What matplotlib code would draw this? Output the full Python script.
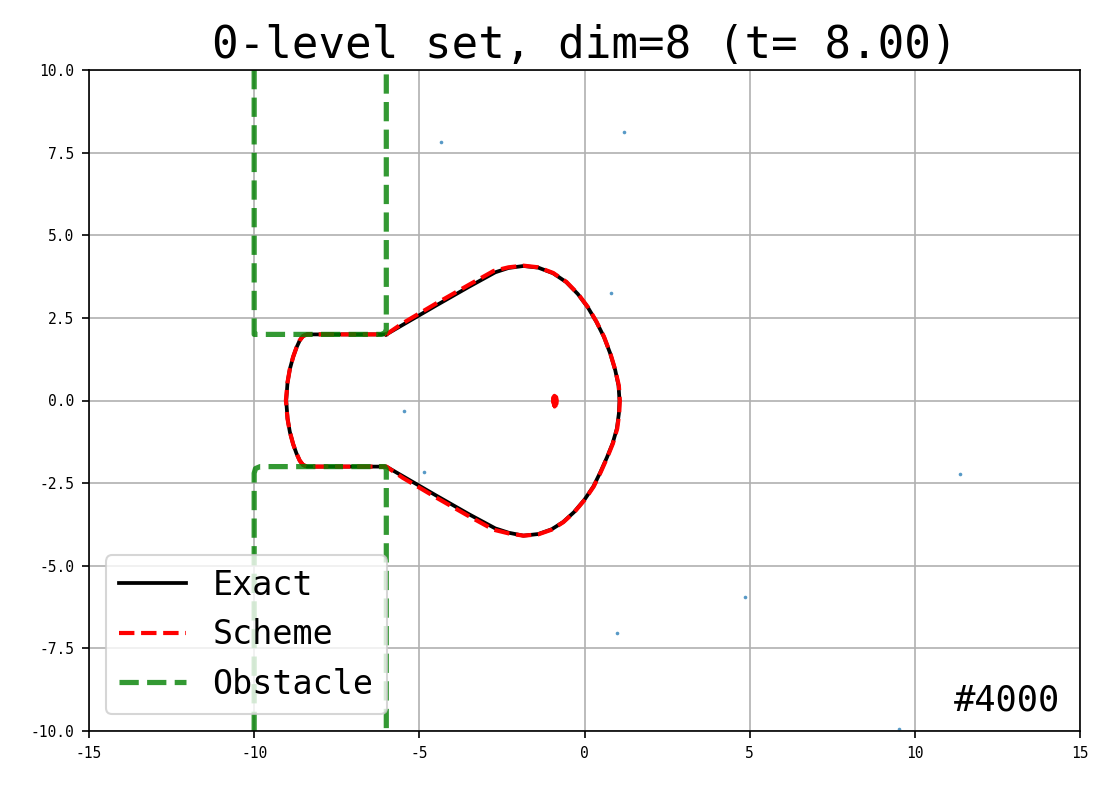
import matplotlib
matplotlib.use("Agg")
import matplotlib.pyplot as plt
import numpy as np

# ---- data ----
exact_x = [-6.00, -4.50, -3.50, -2.70, -2.30, -1.85, -1.40, -0.95, -0.55, -0.20, 0.10, 0.36, 0.59, 0.78, 0.93, 1.03, 1.06,
           1.04, 0.98, 0.85, 0.68, 0.48, 0.27, 0.00, -0.32, -0.65, -1.00, -1.40, -1.85, -2.30, -2.70, -3.50, -4.50, -6.00,
           -8.40, -8.52, -8.62, -8.72, -8.82, -8.92, -8.99, -9.03,
           -8.99, -8.92, -8.82, -8.72, -8.62, -8.52, -8.40, -6.00]
exact_y = [2.00, 2.87, 3.44, 3.88, 4.01, 4.07, 4.02, 3.85, 3.58, 3.22, 2.82, 2.38, 1.92, 1.42, 0.92, 0.45, 0.00,
           -0.40, -0.85, -1.30, -1.72, -2.17, -2.60, -3.00, -3.38, -3.68, -3.90, -4.04, -4.09, -4.00, -3.87, -3.44, -2.87, -2.00,
           -2.00, -1.95, -1.82, -1.60, -1.32, -0.95, -0.55, 0.00,
           0.55, 0.95, 1.32, 1.60, 1.82, 1.95, 2.00, 2.00]

scheme_x = [-6.00, -5.50, -4.50, -3.50, -2.75, -2.30, -1.85, -1.40, -0.95, -0.55, -0.20, 0.10, 0.36, 0.59, 0.78, 0.93, 1.04, 1.07,
            1.05, 0.99, 0.86, 0.69, 0.49, 0.28, 0.01, -0.31, -0.64, -1.00, -1.40, -1.85, -2.30, -2.75, -3.50, -4.50, -5.50, -6.00,
            -8.40, -8.52, -8.62, -8.72, -8.82, -8.92, -8.99, -9.04,
            -8.99, -8.92, -8.82, -8.72, -8.62, -8.52, -8.40, -6.00]
scheme_y = [2.00, 2.34, 2.93, 3.50, 3.92, 4.03, 4.08, 4.03, 3.86, 3.59, 3.23, 2.83, 2.39, 1.93, 1.43, 0.93, 0.45, 0.00,
            -0.40, -0.85, -1.30, -1.72, -2.17, -2.60, -3.00, -3.38, -3.68, -3.91, -4.05, -4.09, -4.02, -3.91, -3.50, -2.93, -2.34, -2.00,
            -2.00, -1.95, -1.82, -1.60, -1.32, -0.95, -0.55, 0.00,
            0.55, 0.95, 1.32, 1.60, 1.82, 1.95, 2.00, 2.00]

island_x = [-0.90, -0.85, -0.84, -0.86, -0.91, -0.95, -0.95, -0.90]
island_y = [-0.16, -0.10, 0.00, 0.10, 0.14, 0.08, -0.05, -0.16]

obst_up_x = [-10.0, -10.0, -6.15, -6.04, -6.00, -6.00]
obst_up_y = [10.0, 2.00, 2.00, 2.05, 2.15, 10.0]
obst_lo_x = [-10.0, -10.0, -9.96, -9.82, -6.05, -6.00, -6.00]
obst_lo_y = [-10.0, -2.20, -2.06, -2.00, -2.00, -2.08, -10.0]

pts_x = [-4.34, 1.21, 0.80, -5.46, -4.85, 11.37, 4.86, 0.98, 9.52]
pts_y = [7.81, 8.11, 3.24, -0.33, -2.17, -2.22, -5.95, -7.03, -9.94]

xticks = [-15, -10, -5, 0, 5, 10, 15]
yticks = [-10.0, -7.5, -5.0, -2.5, 0.0, 2.5, 5.0, 7.5, 10.0]

title = "0-level set, dim=8 (t= 8.00)"
label_iter = "#4000"

# ---- figure ----
plt.rcParams['font.family'] = ['DejaVu Sans Mono', 'DejaVu Sans']
fig = plt.figure(figsize=(1111/150, 789/150), dpi=150)
ax = fig.add_axes([89/1111, 1-731/789, (1080-89)/1111, (731-70)/789])

ax.scatter(pts_x, pts_y, s=3, color='tab:blue', alpha=0.75, linewidths=0, zorder=1.5)
ax.plot(exact_x, exact_y, color='black', lw=1.8, label='Exact', zorder=2)
ax.plot(scheme_x, scheme_y, color='red', lw=2.0, ls='--', label='Scheme', zorder=2.1)
ax.plot(island_x, island_y, color='red', lw=2.0, zorder=2.1)
ax.plot(obst_up_x, obst_up_y, color='green', alpha=0.8, lw=2.5, ls='--', label='Obstacle', zorder=2.2)
ax.plot(obst_lo_x, obst_lo_y, color='green', alpha=0.8, lw=2.5, ls='--', zorder=2.2)

ax.set_xlim(-15, 15)
ax.set_ylim(-10, 10)
ax.set_xticks(xticks)
ax.set_yticks(yticks)
ax.set_xticklabels([str(v) for v in xticks])
ax.set_yticklabels([f"{v:.1f}" for v in yticks])
ax.tick_params(labelsize=7)
ax.grid(True, color='#b0b0b0', lw=0.8)
ax.set_title(title, fontsize=21.2)
ax.legend(loc='lower left', fontsize=16)
ax.text(0.98, 0.02, label_iter, transform=ax.transAxes, ha='right', va='bottom', fontsize=17)

fig.savefig('out.png', dpi=150)
